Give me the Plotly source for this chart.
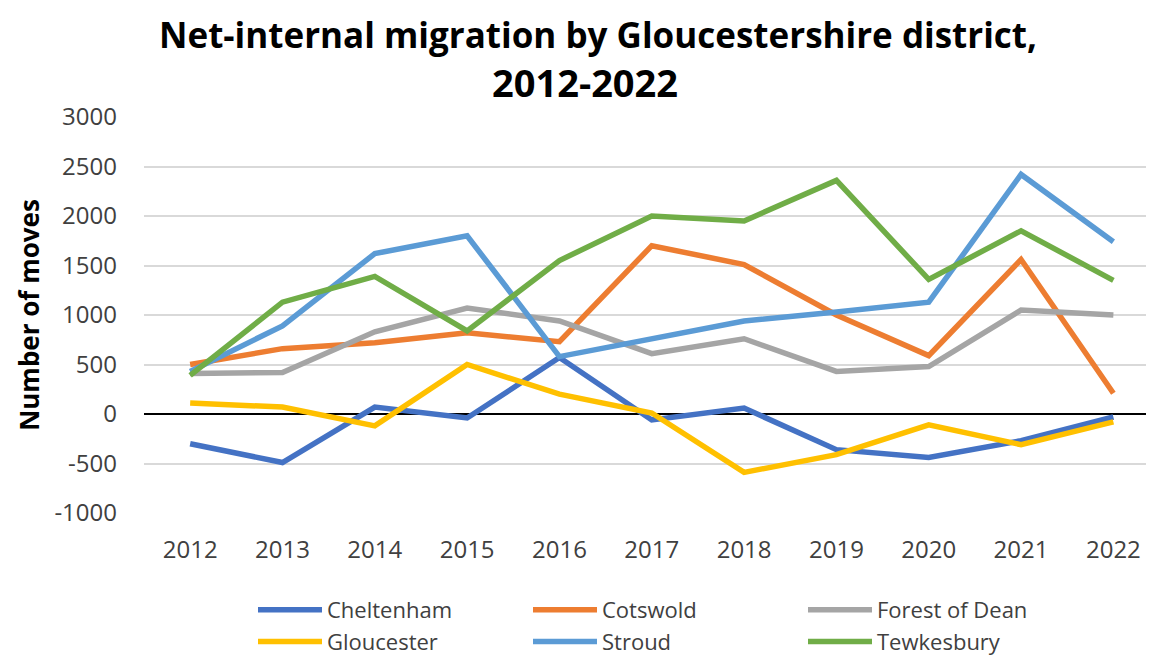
from plotly.graph_objects import Figure, Scatter

years = ['2012', '2013', '2014', '2015', '2016', '2017', '2018', '2019', '2020', '2021', '2022']

cheltenham = [-300, -490, 70, -40, 570, -60, 60, -360, -440, -270, -30]
cotswold = [500, 660, 720, 820, 730, 1700, 1510, 1000, 590, 1560, 210]
forest_of_dean = [410, 420, 830, 1070, 940, 610, 760, 430, 480, 1050, 1000]
gloucester = [110, 70, -120, 500, 200, 10, -590, -410, -110, -310, -80]
stroud = [430, 890, 1620, 1800, 580, 760, 940, 1030, 1130, 2420, 1740]
tewkesbury = [390, 1130, 1390, 840, 1550, 2000, 1950, 2360, 1360, 1850, 1350]

y_ticks = [-1000, -500, 0, 500, 1000, 1500, 2000, 2500, 3000]
y_tick_labels = ['-1000', '-500', '0', '500', '1000', '1500', '2000', '2500', '3000']

title_line1 = 'Net-internal migration by Gloucestershire district,'
title_line2 = '2012-2022'

series = [
    ('Cheltenham', cheltenham, '#4472C4'),
    ('Cotswold', cotswold, '#ED7D31'),
    ('Forest of Dean', forest_of_dean, '#A5A5A5'),
    ('Gloucester', gloucester, '#FFC000'),
    ('Stroud', stroud, '#5B9BD5'),
    ('Tewkesbury', tewkesbury, '#70AD47'),
]

# page body adds 8px margin, so the figure is drawn 8px smaller and shifted
OFF = 8
W, H = 1154 - OFF, 656 - OFF
L, T, B = 144 - OFF, 117 - OFF, 513 - OFF   # plot box edges in figure px
PW, PH = W - L, B - T

fig = Figure()
for name, vals, color in series:
    fig.add_trace(
        Scatter(
            x=years,
            y=vals,
            name=name,
            mode='lines',
            line=dict(color=color, width=5.5),
        )
    )

tick_font = dict(family='Open Sans', size=24, color='#404040')

fig.update_xaxes(
    type='category',
    range=[-0.5, 10.44],
    showgrid=False,
    showline=False,
    ticks='',
    ticklabelstandoff=20,
    tickfont=tick_font,
)
fig.update_yaxes(
    range=[-1000, 3000],
    tickvals=y_ticks,
    ticktext=y_tick_labels,
    showgrid=True,
    gridcolor='#D9D9D9',
    gridwidth=1.5,
    zeroline=True,
    zerolinecolor='#000000',
    zerolinewidth=1.5,
    showline=False,
    ticks='',
    ticklabelstandoff=26,
    tickfont=tick_font,
    title=dict(
        text='<b>Number of moves</b>',
        font=dict(family='Open Sans', size=26, color='#000000'),
        standoff=7,
    ),
)

# title as two centred lines
fig.add_annotation(
    text='<b>' + title_line1 + '</b>',
    xref='paper', yref='paper',
    x=(598 - OFF - L) / PW, y=1 + (T - (34 - OFF)) / PH,
    xanchor='center', yanchor='middle',
    showarrow=False,
    font=dict(family='Open Sans', size=35, color='#000000'),
)
fig.add_annotation(
    text='<b>' + title_line2 + '</b>',
    xref='paper', yref='paper',
    x=(585 - OFF - L) / PW, y=1 + (T - (82 - OFF)) / PH,
    xanchor='center', yanchor='middle',
    showarrow=False,
    font=dict(family='Open Sans', size=38, color='#000000'),
)

fig.update_layout(
    width=W,
    height=H,
    margin=dict(l=L, r=0, t=T, b=H - B, autoexpand=False),
    plot_bgcolor='white',
    paper_bgcolor='white',
    showlegend=True,
    legend=dict(
        orientation='h',
        xref='container',
        yref='container',
        x=245 / W,
        xanchor='left',
        y=1 - 581 / H,
        yanchor='top',
        entrywidth=196,
        itemwidth=64,
        font=dict(family='Open Sans', size=22, color='#404040'),
        bgcolor='rgba(0,0,0,0)',
    ),
)

fig.write_html('out.html')
